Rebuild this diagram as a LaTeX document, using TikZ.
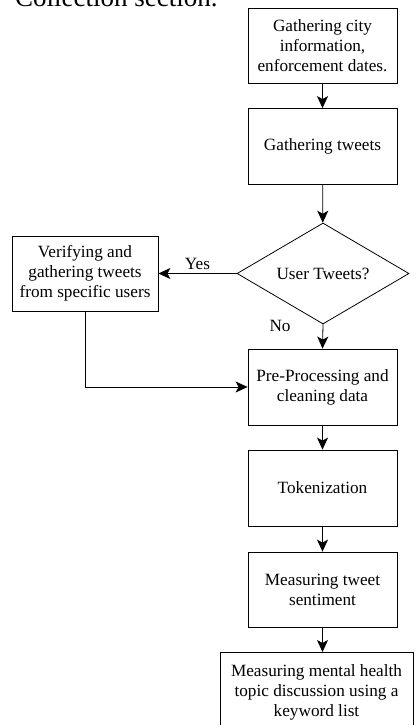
\documentclass[tikz,border=0pt]{standalone}
\usepackage{fontspec}
\setmainfont{Liberation Serif}
\usepackage{tikz}
\usetikzlibrary{arrows.meta,shapes.geometric,positioning}

\tikzset{
  stepbox/.style={draw, line width=0.8pt, align=center, inner sep=2pt,
    minimum width=149pt, minimum height=76pt},
  choice/.style={draw, line width=0.8pt, diamond, aspect=1.7, inner sep=0pt,
    minimum width=172pt, minimum height=101pt},
  flow/.style={draw, line width=0.8pt, -{Stealth[length=12pt,width=11pt,inset=3pt]}},
  lbl/.style={inner sep=1pt}
}

\begin{document}
\begin{tikzpicture}[x=1pt,y=-1pt,font=\fontsize{17.2}{20}\selectfont]
    \useasboundingbox (0,0) rectangle (415,725);
    \clip (0,0) rectangle (415,725);

    % caption line cut by the page edge
    \node[anchor=base west,inner sep=0pt,font=\fontsize{27}{30}\selectfont] (cap) at (15,7) {Collection section.};

    \node[stepbox,minimum height=75pt] (gcity) at (322.5,45.5) {Gathering city\\information,\\enforcement dates.};
    \node[stepbox] (gtweets) at (322.5,146.5) {Gathering tweets};
    \node[choice] (usertw) at (323,273.5) {User Tweets?};
    \node[stepbox,minimum width=146pt,minimum height=75pt] (verify) at (85,273.5) {Verifying and\\gathering tweets\\from specific users};
    \node[stepbox] (preproc) at (322.5,387) {Pre-Processing and\\cleaning data};
    \node[stepbox] (token) at (322.5,488) {Tokenization};
    \node[stepbox,minimum height=75pt] (senti) at (322.5,589.5) {Measuring tweet\\sentiment};
    \node[stepbox,anchor=north,minimum width=193pt,minimum height=80pt] (mental) at (316.5,652)
      {Measuring mental health\\topic discussion using a\\keyword list};

    \draw[flow] (gcity) -- (gtweets);
    \draw[flow] (gtweets) -- (usertw);
    \draw[flow] (usertw.west) -- node[lbl,above=2pt] {Yes} (verify.east);
    \draw[flow] (usertw.south) -- node[lbl,pos=0.05,left=31pt] {No} (preproc.north);
    \draw[flow] (verify.south) |- (preproc.west);
    \draw[flow] (preproc) -- (token);
    \draw[flow] (token) -- (senti);
    \draw[flow] (senti.south) -- (senti.south |- mental.north);
  \end{tikzpicture}
\end{document}
